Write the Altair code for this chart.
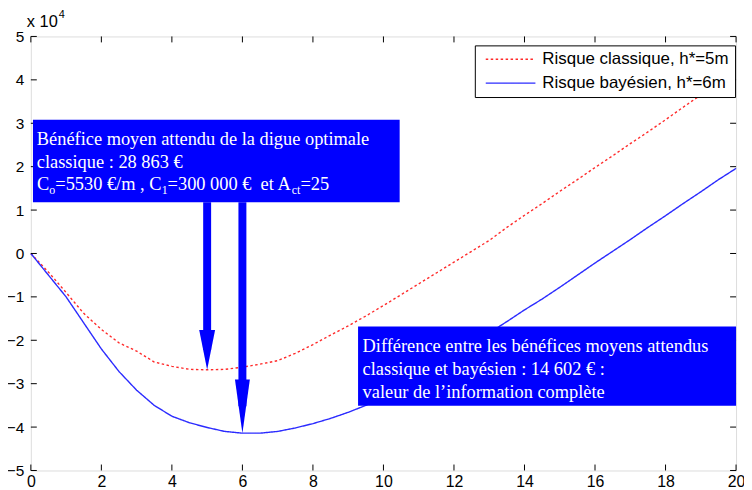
import altair as alt
import pandas as pd

# ---------------- data (values in units of 10^4 €) ----------------
h_values = [0, 0.5, 1, 1.5, 2, 2.5, 3, 3.5, 4, 4.5, 5, 5.5, 6, 6.5, 7, 7.5, 8, 8.5, 9, 9.5,
            10, 10.5, 11, 11.5, 12, 12.5, 13, 13.5, 14, 14.5, 15, 15.5, 16, 16.5, 17, 17.5,
            18, 18.5, 19, 19.5, 20]
risk_classic = [0, -0.43, -0.9, -1.38, -1.75, -2.06, -2.25, -2.5, -2.6, -2.67, -2.68, -2.67,
                -2.62, -2.55, -2.47, -2.3, -2.1, -1.88, -1.67, -1.44, -1.2, -0.95, -0.7,
                -0.45, -0.2, 0.05, 0.3, 0.6, 0.88, 1.15, 1.43, 1.7, 1.98, 2.25, 2.53, 2.8,
                3.08, 3.37, 3.65, 3.92, 4.16]
risk_bayes = [0, -0.5, -1.0, -1.6, -2.2, -2.72, -3.15, -3.5, -3.75, -3.9, -4.01, -4.1,
              -4.14, -4.14, -4.1, -4.02, -3.92, -3.8, -3.66, -3.5, -3.3, -3.08, -2.85,
              -2.62, -2.38, -2.1, -1.83, -1.57, -1.3, -1.05, -0.78, -0.5, -0.22, 0.05,
              0.32, 0.6, 0.87, 1.15, 1.42, 1.7, 1.96]
series_names = ["Risque classique, h*=5m", "Risque bayésien, h*=6m"]
x_ticks = [0, 2, 4, 6, 8, 10, 12, 14, 16, 18, 20]
y_ticks = [-5, -4, -3, -2, -1, 0, 1, 2, 3, 4, 5]

box1_lines = ["Bénéfice moyen attendu de la digue optimale", "classique : 28 863 €"]
box1_formula = ["C", "o", "=5530 €/m , C", "1", "=300 000 €\u00a0 et A", "ct", "=25"]
box2_lines = ["Différence entre les bénéfices moyens attendus",
              "classique et bayésien : 14 602 € :",
              "valeur de l’information complète"]
box_x1 = [0.06, 9.28]
box_x2 = [10.46, 20]
box_y1 = [3.08, -1.68]
box_y2 = [1.18, -3.51]
arrow_x = [5, 6]
arrow_tip = [-2.68, -4.14]
arrow_top = 1.18

# ---------------- layout ----------------
W, H = 710, 437
PX_PER_Y = H / 10.0
BLUE = "#0000ff"
SANS = "Liberation Sans"
SERIF = "Liberation Serif"

xs = alt.Scale(domain=[0, 20], nice=False, zero=False)
ys = alt.Scale(domain=[-5, 5], nice=False, zero=False)
x_axis = alt.Axis(values=x_ticks, title=None, grid=False, domain=False, ticks=False, tickSize=0,
                  labelPadding=3, labelFlush=False, labelFont=SANS, labelFontSize=16,
                  labelColor="black")
y_axis = alt.Axis(values=y_ticks, title=None, grid=False, domain=False, ticks=False, tickSize=0,
                  labelPadding=7, labelFlush=False, format="d", labelFont=SANS,
                  labelFontSize=15.5, labelColor="black")


def X(f):
    return alt.X(f, scale=xs, axis=x_axis, title=None)


def Y(f):
    return alt.Y(f, scale=ys, axis=y_axis, title=None)


df = pd.DataFrame({
    "h": h_values + h_values,
    "val": risk_classic + risk_bayes,
    "series": [series_names[0]] * len(h_values) + [series_names[1]] * len(h_values),
})

leg = alt.Legend(orient="none", legendX=447, legendY=9, title=None,
                 symbolType="stroke", symbolSize=2500, symbolStrokeWidth=1.4,
                 clipHeight=16, rowPadding=7, padding=6, symbolOffset=4, labelOffset=6,
                 labelFont=SANS, labelFontSize=17, labelColor="black",
                 strokeColor="black", fillColor="white", labelLimit=400)

lines = alt.Chart(df).mark_line(strokeWidth=1.4).encode(
    x=X("h:Q"),
    y=Y("val:Q"),
    color=alt.Color("series:N", scale=alt.Scale(domain=series_names, range=["#ff2a2a", "#2b2bff"]),
                    legend=leg),
    strokeDash=alt.StrokeDash("series:N", scale=alt.Scale(domain=series_names, range=[[2.5, 2.5], [1, 0]]),
                              legend=leg),
    order="h:Q",
)

# inward ticks on all four sides
xt = pd.DataFrame({"t": x_ticks})
yt = pd.DataFrame({"t": y_ticks})
TL = 6
tick_b = alt.Chart(xt).mark_rule(color="black", strokeWidth=1).encode(
    x=X("t:Q"), y=alt.value(H), y2=alt.value(H - TL))
tick_t = alt.Chart(xt).mark_rule(color="black", strokeWidth=1).encode(
    x=X("t:Q"), y=alt.value(0), y2=alt.value(TL))
tick_l = alt.Chart(yt).mark_rule(color="black", strokeWidth=1).encode(
    y=Y("t:Q"), x=alt.value(0), x2=alt.value(TL))
tick_r = alt.Chart(yt).mark_rule(color="black", strokeWidth=1).encode(
    y=Y("t:Q"), x=alt.value(W), x2=alt.value(W - TL))

# annotation boxes
boxes_df = pd.DataFrame({"x1": box_x1, "x2": box_x2, "y1": box_y1, "y2": box_y2})
boxes = alt.Chart(boxes_df).mark_rect(color=BLUE, opacity=1).encode(
    x=X("x1:Q"), x2="x2:Q", y=Y("y1:Q"), y2="y2:Q")

# arrows
head_px = [40, 54]
head_w = [16, 15]
arrows_df = pd.DataFrame({
    "x": arrow_x,
    "top": [arrow_top] * len(arrow_x),
    "tip": arrow_tip,
    "shaft_end": [t + 0.5 * hp / PX_PER_Y for t, hp in zip(arrow_tip, head_px)],
})
shafts = alt.Chart(arrows_df).mark_rule(color=BLUE, strokeWidth=8, strokeCap="butt").encode(
    x=X("x:Q"), y=Y("top:Q"), y2="shaft_end:Q")
heads = []
for i in range(len(arrow_x)):
    a = head_w[i] / head_px[i]
    path = f"M0,0L{-a:.4f},-2L{a:.4f},-2Z"
    heads.append(
        alt.Chart(arrows_df.iloc[[i]]).mark_point(shape=path, filled=True, color=BLUE, opacity=1,
                                                  strokeWidth=0, size=head_px[i] ** 2).encode(
            x=X("x:Q"), y=Y("tip:Q")))

one = pd.DataFrame({"k": [0]})


def txt(s, x, y, size=18.5, font=SERIF, color="white"):
    return alt.Chart(one).mark_text(align="left", baseline="middle", font=font, fontSize=size,
                                    color=color).encode(
        x=alt.value(x), y=alt.value(y), text=alt.value(s))


texts = []
for i, s in enumerate(box1_lines):
    texts.append(txt(s, 6, 103 + 23 * i))
# formula line with subscripts (offsets follow Times metrics)
f_x = [6.3, 18.6, 24.6, 131.7, 137.7, 262.7, 271.4]
for i, s in enumerate(box1_formula):
    sub = i in (1, 3, 5)
    texts.append(txt(s, f_x[i], 155 if sub else 149, size=12 if sub else 18.5))
for i, s in enumerate(box2_lines):
    texts.append(txt(s, 334, 311.7 + 23.3 * i))

# exponent label
texts.append(txt("x 10", -4, -15, size=16.5, font=SANS, color="black"))
texts.append(txt("4", 28, -22, size=11, font=SANS, color="black"))

chart = alt.layer(lines, tick_b, tick_t, tick_l, tick_r, boxes, shafts, *heads, *texts).properties(
    width=W, height=H,
    autosize=alt.AutoSizeParams(type="none"),
    padding={"left": 23, "top": 27, "right": 8, "bottom": 18},
).configure_view(stroke="#111", strokeWidth=1.5).configure(background="white")

chart.save("out.html", embed_options={"renderer": "svg", "actions": False})
